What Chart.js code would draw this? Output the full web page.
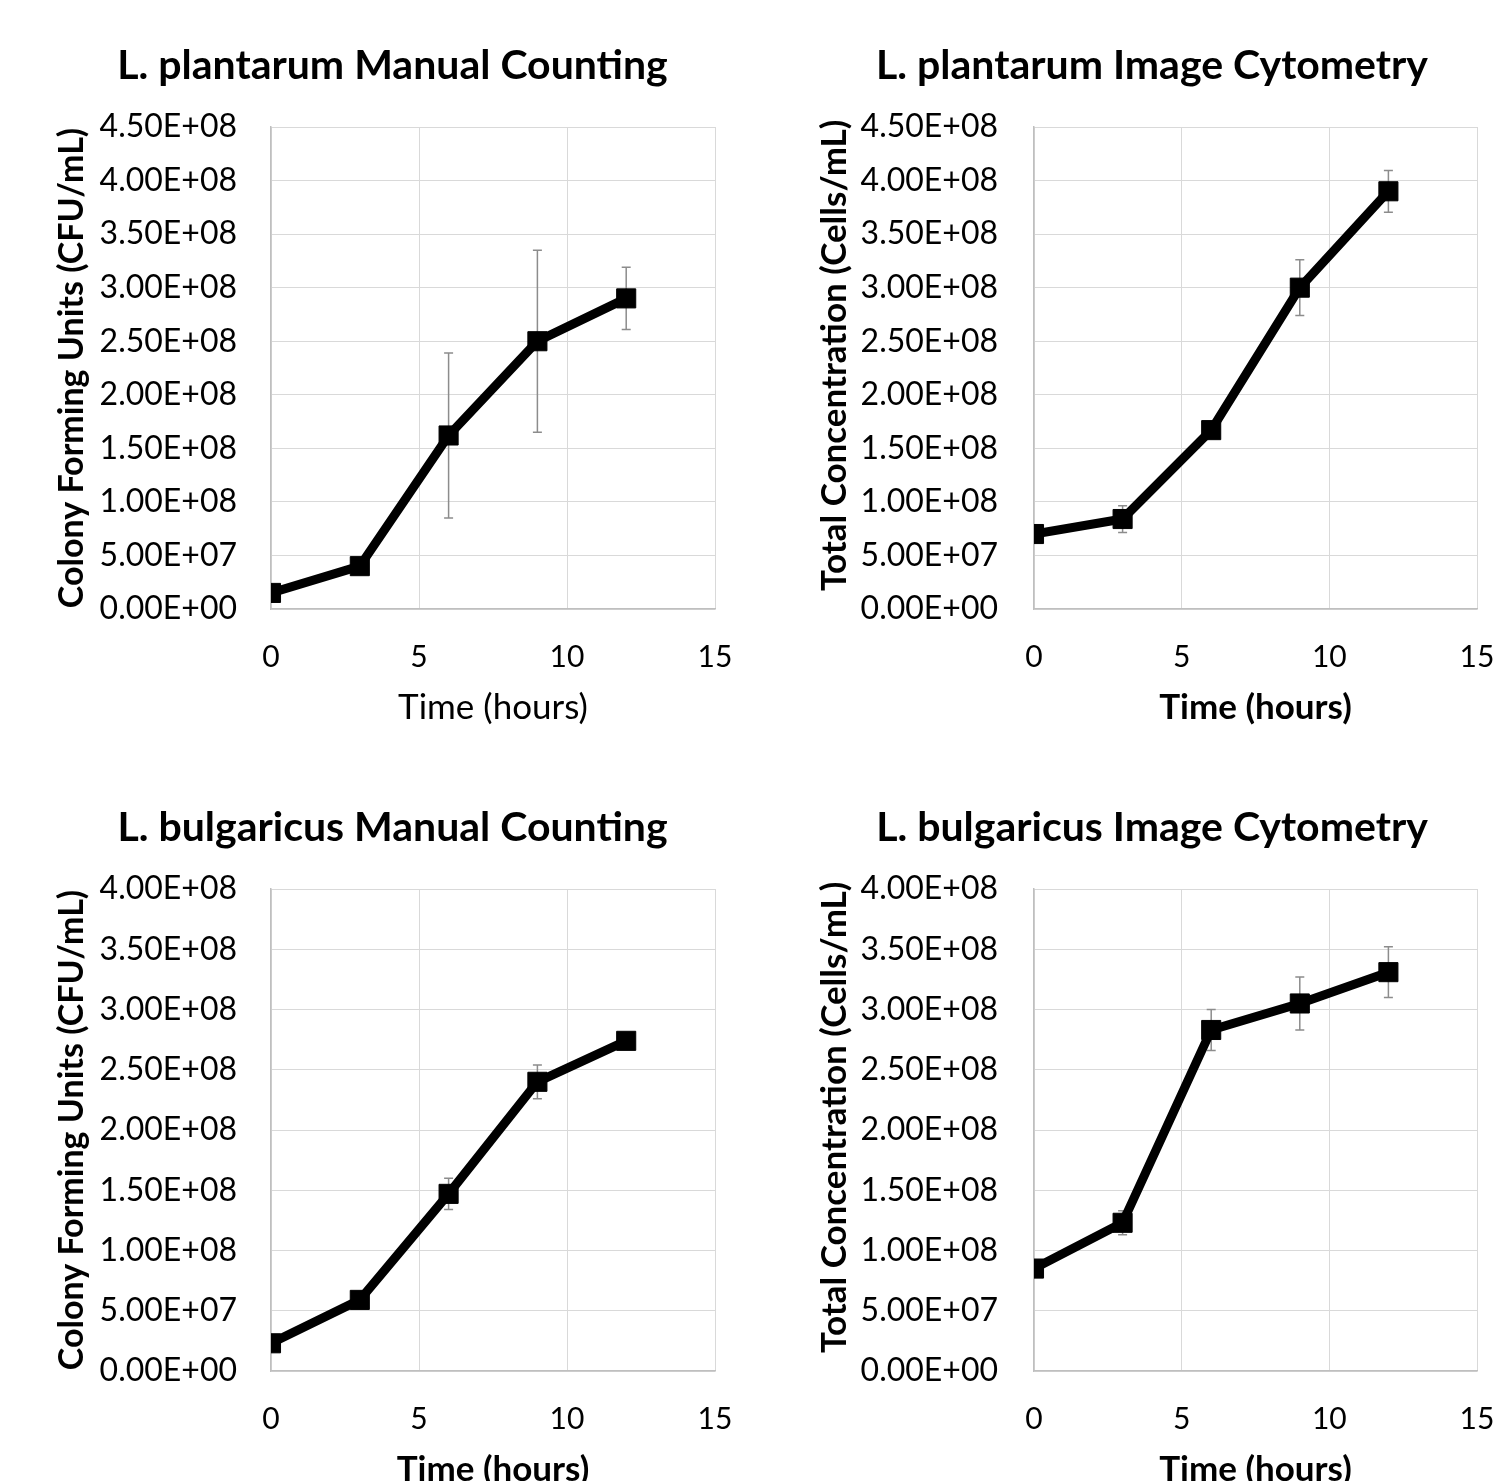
<!DOCTYPE html>
<html>
<head>
<meta charset="utf-8">
<script src="https://cdn.jsdelivr.net/npm/chart.js@4/dist/chart.umd.min.js"></script>
<style>
  html, body { margin: 0; padding: 0; background: #fff; width: 1496px; height: 1481px; overflow: hidden; }
  canvas { position: absolute; }
</style>
</head>
<body>
<canvas id="c1" width="705" height="740" style="left:40px;top:0px"></canvas>
<canvas id="c2" width="688" height="740" style="left:808px;top:0px"></canvas>
<canvas id="c3" width="705" height="740" style="left:40px;top:762px"></canvas>
<canvas id="c4" width="688" height="740" style="left:808px;top:762px"></canvas>
<script>
// datos
const hours = [0, 3, 6, 9, 12];
const xTicks = [0, 5, 10, 15];

const plantarumManual = [1.5e7, 4.0e7, 1.62e8, 2.5e8, 2.9e8];
const plantarumManualErr = [0, 0, 7.7e7, 8.5e7, 2.9e7];
const plantarumImage = [7.0e7, 8.4e7, 1.67e8, 3.0e8, 3.9e8];
const plantarumImageErr = [0, 1.25e7, 0, 2.6e7, 1.95e7];
const bulgaricusManual = [2.3e7, 5.9e7, 1.47e8, 2.4e8, 2.74e8];
const bulgaricusManualErr = [0, 0, 1.3e7, 1.4e7, 0];
const bulgaricusImage = [8.5e7, 1.23e8, 2.83e8, 3.05e8, 3.31e8];
const bulgaricusImageErr = [0, 1.0e7, 1.7e7, 2.2e7, 2.1e7];

const FONT = 'Lato, Calibri, Carlito, sans-serif';

// formato tipo Excel: 4.50E+08
function sci(v) {
    if (v === 0) return '0.00E+00';
    const exp = Math.floor(Math.log10(Math.abs(v)) + 1e-9);
    const mant = v / Math.pow(10, exp);
    return mant.toFixed(2) + 'E' + (exp < 0 ? '-' : '+') + String(Math.abs(exp)).padStart(2, '0');
}

// barras de error dibujadas con las escalas del grafico
const errorBars = {
    id: 'errorBars',
    beforeDatasetsDraw(chart, args, opts) {
        const errs = opts.errors;
        if (!errs) return;
        const ctx = chart.ctx;
        const xs = chart.scales.x, ys = chart.scales.y;
        const pts = chart.data.datasets[0].data;
        ctx.save();
        ctx.strokeStyle = '#8c8c8c';
        ctx.lineWidth = 1.5;
        pts.forEach((p, i) => {
            const e = errs[i];
            if (!e) return;
            const px = xs.getPixelForValue(p.x);
            const top = ys.getPixelForValue(p.y + e);
            const bot = ys.getPixelForValue(p.y - e);
            ctx.beginPath();
            ctx.moveTo(px, top); ctx.lineTo(px, bot);
            ctx.moveTo(px - 4.5, top); ctx.lineTo(px + 4.5, top);
            ctx.moveTo(px - 4.5, bot); ctx.lineTo(px + 4.5, bot);
            ctx.stroke();
        });
        ctx.restore();
    }
};

function makeChart(id, cfg) {
    const data = hours.map((h, i) => ({ x: h, y: cfg.values[i] }));
    new Chart(document.getElementById(id), {
        type: 'line',
        data: {
            datasets: [{
                data: data,
                borderColor: '#000',
                borderWidth: 9,
                backgroundColor: '#000',
                pointStyle: 'rect',
                pointRadius: 13.5,
                pointBorderWidth: 1,
                pointBorderColor: '#000',
                pointBackgroundColor: '#000',
                tension: 0
            }]
        },
        plugins: [errorBars],
        options: {
            responsive: false,
            animation: false,
            layout: { padding: 0 },
            plugins: {
                legend: { display: false },
                tooltip: { enabled: false },
                title: {
                    display: true,
                    text: cfg.title,
                    color: '#000',
                    font: { family: FONT, size: 41, weight: 'bold', lineHeight: 1.2 },
                    padding: { top: 41.4, bottom: 36.4 }
                },
                errorBars: { errors: cfg.errors }
            },
            scales: {
                x: {
                    type: 'linear',
                    min: 0,
                    max: 15,
                    afterBuildTicks: s => { s.ticks = xTicks.map(v => ({ value: v })); },
                    afterFit: s => {
                        // margen derecho fijo, sin que mueva el titulo
                        s.height = 131;
                        s.paddingLeft = 0;
                        s.paddingRight = cfg.padRight;
                    },
                    grid: { color: '#d9d9d9', lineWidth: 1, drawTicks: false },
                    border: { color: '#bfbfbf', width: 1.5 },
                    ticks: {
                        color: '#000',
                        padding: 30,
                        font: { family: FONT, size: 30 },
                        callback: v => String(v)
                    },
                    title: {
                        display: true,
                        text: 'Time (hours)',
                        color: '#000',
                        font: { family: FONT, size: 35, weight: cfg.xBold ? 'bold' : 'normal', lineHeight: 1.2 },
                        padding: { top: 0, bottom: 11 }
                    }
                },
                y: {
                    min: 0,
                    max: cfg.yMax,
                    afterBuildTicks: s => {
                        const t = [];
                        for (let v = 0; v <= cfg.yMax + 1; v += 5e7) t.push({ value: v });
                        s.ticks = t;
                    },
                    afterFit: s => { s.width = cfg.yWidth; },
                    grid: { color: '#d9d9d9', lineWidth: 1, drawTicks: false },
                    border: { color: '#bfbfbf', width: 1.5 },
                    ticks: {
                        color: '#000',
                        padding: cfg.tickPad,
                        font: { family: FONT, size: 32 },
                        callback: v => sci(v)
                    },
                    title: {
                        display: true,
                        text: cfg.yTitle,
                        color: '#000',
                        font: { family: FONT, size: cfg.yTitleSize, weight: 'bold', lineHeight: 1.2 },
                        padding: { top: cfg.yTitlePad, bottom: 0 }
                    }
                }
            }
        }
    });
}

document.addEventListener('DOMContentLoaded', function() {
    makeChart('c1', {
        title: 'L. plantarum Manual Counting',
        yTitle: 'Colony Forming Units (CFU/mL)',
        values: plantarumManual, errors: plantarumManualErr,
        yMax: 4.5e8, yWidth: 231, padRight: 30, tickPad: 34, yTitleSize: 34, yTitlePad: 11.6, xBold: false
    });
    makeChart('c2', {
        title: 'L. plantarum Image Cytometry',
        yTitle: '   Total Concentration (Cells/mL)',
        values: plantarumImage, errors: plantarumImageErr,
        yMax: 4.5e8, yWidth: 226, padRight: 19, tickPad: 36, yTitleSize: 35, yTitlePad: 6, xBold: true
    });
    makeChart('c3', {
        title: 'L. bulgaricus Manual Counting',
        yTitle: 'Colony Forming Units (CFU/mL)',
        values: bulgaricusManual, errors: bulgaricusManualErr,
        yMax: 4.0e8, yWidth: 231, padRight: 30, tickPad: 34, yTitleSize: 34, yTitlePad: 11.6, xBold: true
    });
    makeChart('c4', {
        title: 'L. bulgaricus Image Cytometry',
        yTitle: '   Total Concentration (Cells/mL)',
        values: bulgaricusImage, errors: bulgaricusImageErr,
        yMax: 4.0e8, yWidth: 226, padRight: 19, tickPad: 36, yTitleSize: 35, yTitlePad: 6, xBold: true
    });
});
</script>
</body>
</html>
